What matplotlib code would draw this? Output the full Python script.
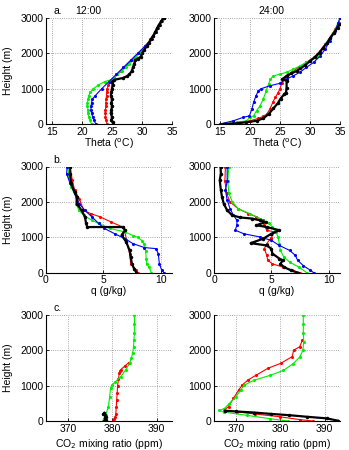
import numpy as np
import matplotlib
matplotlib.use('Agg')
import matplotlib.pyplot as plt

plt.rcParams['font.family'] = ['Liberation Sans', 'DejaVu Sans']
plt.rcParams['font.size'] = 7.5

# ---- potential temperature, 12:00 ----
th12_k_h = [0, 50, 100, 200, 300, 400, 500, 600, 700, 800, 900, 1000, 1100, 1200, 1250, 1300, 1350,
            1400, 1500, 1600, 1700, 1800, 1850, 1900, 2000, 2100, 2200, 2300, 2400, 2500, 2600, 2700,
            2800, 2900, 3000]
th12_k = [25.2, 25.1, 24.9, 25.0, 24.8, 24.9, 25.0, 24.9, 25.0, 24.8, 24.9, 25.0, 25.1, 25.0, 25.4, 26.8,
          27.5, 27.9, 28.3, 28.5, 28.7, 28.9, 29.3, 29.8, 30.0, 30.4, 30.8, 31.2, 31.5, 31.9, 32.2, 32.5,
          32.8, 33.2, 33.6]
th12_r_h = [0, 100, 200, 300, 400, 500, 600, 700, 800, 900, 1000, 1100, 1200, 1300, 1400, 1500, 1600,
            1700, 1800, 1900, 2000, 2100, 2200, 2300, 2400, 2500, 2600, 2700, 2800, 2900, 3000]
th12_r = [24.2, 24.0, 23.9, 23.9, 23.9, 24.0, 24.0, 24.0, 24.1, 24.1, 24.2, 24.4, 24.8, 25.3, 25.9, 26.5,
          27.1, 27.7, 28.3, 28.9, 29.5, 30.0, 30.5, 31.0, 31.4, 31.8, 32.2, 32.6, 32.9, 33.3, 33.6]
th12_g_h = [0, 100, 200, 300, 400, 500, 600, 700, 800, 900, 1000, 1100, 1200, 1250, 1300, 1400, 1500,
            1600, 1700, 1800, 1900, 2000, 2200, 2400, 2600, 2800, 3000]
th12_g = [21.6, 21.3, 21.1, 21.0, 21.0, 20.9, 20.9, 21.0, 21.1, 21.4, 21.9, 22.7, 23.8, 24.8, 25.3, 25.9,
          26.6, 27.3, 27.9, 28.5, 29.0, 29.6, 30.6, 31.5, 32.3, 32.9, 33.4]
th12_b_h = [0, 100, 200, 300, 400, 500, 600, 700, 800, 1000, 1200, 1400, 1600, 1800, 2000, 2200, 2400,
            2600, 2800, 3000]
th12_b = [22.3, 22.0, 21.8, 21.6, 21.5, 21.5, 21.6, 21.7, 22.2, 23.3, 24.5, 25.7, 26.9, 28.1, 29.3, 30.5,
          31.6, 32.4, 33.0, 33.7]

# ---- potential temperature, 24:00 ----
th24_k_h = [0, 10, 50, 90, 160, 280, 440, 580, 720, 840, 890, 1030, 1220, 1270, 1360, 1430, 1500, 1570,
            1660, 1780, 1880, 2020, 2160, 2300, 2440, 2580, 2720, 2820]
th24_k = [15.6, 17.2, 19.4, 21.1, 22.2, 23.1, 23.9, 24.6, 25.1, 25.7, 26.0, 26.1, 26.1, 25.4, 26.1, 26.9,
          27.8, 28.4, 29.2, 30.0, 30.8, 31.6, 32.2, 32.9, 33.4, 34.0, 34.6, 35.0]
th24_r_h = [0, 50, 90, 160, 215, 280, 420, 610, 750, 890, 1000, 1170, 1310, 1410, 1500, 1620, 1740, 1880,
            2070, 2250, 2440, 2680, 2860, 3000]
th24_r = [15.2, 18.3, 20.0, 21.4, 22.2, 22.8, 23.3, 23.8, 24.2, 24.7, 25.0, 25.3, 25.7, 26.4, 27.2, 28.3,
          29.4, 30.6, 31.7, 32.5, 33.3, 34.2, 34.9, 35.2]
th24_g_h = [0, 50, 90, 190, 230, 380, 520, 700, 940, 1130, 1270, 1360, 1410, 1460, 1550, 1640, 1740,
            1920, 2160, 2350, 2580, 2860, 3000]
th24_g = [15.3, 17.8, 19.4, 20.0, 20.6, 21.1, 21.7, 22.2, 22.7, 23.1, 23.4, 23.9, 25.0, 26.1, 27.2, 28.3,
          29.4, 31.1, 32.2, 33.1, 33.9, 34.7, 35.0]
th24_b_h = [0, 90, 190, 230, 420, 610, 800, 940, 1000, 1080, 1150, 1270, 1360, 1460, 1600, 1740, 1920,
            2110, 2350, 2630, 2860, 3000]
th24_b = [15.0, 17.2, 18.9, 19.9, 20.3, 20.6, 21.0, 21.4, 21.9, 23.3, 25.0, 26.1, 27.2, 28.3, 29.4, 30.6,
          31.7, 32.5, 33.3, 34.2, 34.7, 35.0]

# ---- specific humidity, 12:00 ----
q12_k_h = [0, 110, 250, 440, 630, 870, 1060, 1200, 1290, 1290, 1390, 1580, 1760, 1950, 2140, 2280, 2520,
           2800, 2990]
q12_k = [7.9, 7.7, 7.5, 7.4, 7.3, 7.0, 6.6, 6.9, 6.7, 3.6, 3.5, 3.4, 3.1, 2.7, 2.7, 2.5, 2.2, 2.1, 2.1]
q12_r_h = [0, 70, 250, 540, 915, 1200, 1290, 1430, 1580, 1670, 1760, 2090, 2330, 2610, 3000]
q12_r = [8.05, 7.9, 7.4, 7.3, 7.0, 6.9, 6.7, 5.7, 4.7, 3.9, 3.3, 2.9, 2.5, 2.3, 2.1]
q12_g_h = [0, 150, 250, 400, 600, 800, 900, 1000, 1050, 1150, 1250, 1390, 1480, 1620, 1760, 1950, 2140,
           2420, 2710, 3000]
q12_g = [9.2, 9.0, 8.8, 8.75, 8.7, 8.6, 8.4, 8.0, 7.6, 6.9, 5.6, 4.6, 4.0, 3.3, 2.9, 2.6, 2.6, 2.2, 2.0, 1.9]
q12_b_h = [0, 70, 250, 540, 680, 710, 820, 960, 1100, 1250, 1390, 1580, 1760, 1950, 2240, 2520, 2800, 3000]
q12_b = [10.3, 10.1, 9.9, 9.8, 9.6, 8.6, 7.6, 6.9, 6.0, 5.1, 4.6, 4.0, 3.4, 2.9, 2.5, 2.1, 1.8, 1.85]

# ---- specific humidity, 24:00 ----
q24_k_h = [0, 70, 160, 250, 350, 400, 540, 680, 770, 835, 960, 1100, 1200, 1290, 1340, 1430, 1480, 1530,
           1560, 1620, 1760, 1950, 2140, 2330, 2610, 2800, 3000]
q24_k = [7.3, 6.7, 6.1, 5.8, 6.0, 5.7, 5.1, 5.0, 4.6, 3.2, 4.3, 5.0, 5.7, 4.6, 3.7, 4.5, 4.0, 3.3, 2.3, 1.6,
         1.15, 0.85, 0.7, 0.6, 0.5, 0.6, 0.57]
q24_r_h = [0, 70, 160, 250, 350, 490, 680, 820, 990, 1150, 1200, 1340, 1480, 1580, 1670, 1810, 2000,
           2240, 2600, 3000]
q24_r = [7.5, 6.8, 6.0, 5.1, 4.7, 4.6, 4.4, 4.6, 5.0, 5.3, 4.6, 4.4, 4.3, 3.7, 3.0, 2.1, 1.4, 1.1, 0.95, 1.0]
q24_g_h = [0, 160, 300, 440, 630, 820, 1010, 1150, 1290, 1390, 1530, 1670, 1810, 2000, 2240, 2600, 3000]
q24_g = [8.1, 7.4, 6.6, 6.1, 5.8, 5.7, 5.6, 5.4, 5.1, 4.8, 4.0, 3.1, 2.1, 1.6, 1.3, 1.2, 1.3]
q24_b_h = [0, 70, 200, 350, 490, 630, 770, 915, 1010, 1100, 1200, 1340, 1480, 1620, 1810, 2050, 2330,
           2600, 3000]
q24_b = [8.7, 8.4, 7.8, 7.3, 7.1, 6.6, 5.7, 5.0, 4.0, 2.6, 1.85, 2.0, 2.0, 1.7, 1.4, 1.15, 1.0, 1.15, 1.15]

# ---- CO2, 12:00 ----
co12_k_h = [0, 40, 80, 120, 160, 200, 230]
co12_k = [378.2, 378.5, 378.3, 378.6, 378.4, 378.0, 378.2]
co12_r_h = [0, 50, 100, 200, 400, 600, 800, 1000, 1200, 1350, 1400, 1450, 1550, 1650]
co12_r = [380.1, 380.3, 380.6, 380.8, 380.9, 381.0, 381.1, 381.2, 381.4, 381.6, 381.7, 381.9, 382.8, 383.7]
co12_g_h = [0, 170, 400, 690, 920, 1020, 1110, 1250, 1440, 1630, 1770, 1920, 2100, 2300, 2500, 2750, 3000]
co12_g = [377.8, 378.5, 379.1, 379.4, 379.6, 380.0, 380.7, 381.9, 383.0, 383.9, 384.3, 384.6, 384.8, 384.9,
          385.0, 385.0, 385.0]

# ---- CO2, 24:00 ----
co24_k_h = [10, 75, 120, 165, 200, 240, 270, 290]
co24_k = [393.0, 390.5, 386.0, 382.0, 378.0, 374.0, 370.0, 367.5]
co24_r_h = [0, 40, 120, 200, 260, 310, 410, 640, 880, 1020, 1160, 1300, 1490, 1630, 1820, 2000, 2100, 2290]
co24_r = [387.3, 384.4, 379.9, 374.2, 370.1, 367.3, 368.3, 369.4, 370.6, 371.4, 372.7, 374.6, 377.2, 380.1,
          382.7, 383.0, 384.4, 385.0]
co24_g_h = [0, 65, 160, 250, 300, 350, 490, 680, 870, 1010, 1150, 1290, 1430, 1620, 1810, 2000, 2240,
            2500, 2750, 3000]
co24_g = [381.8, 377.7, 372.5, 367.3, 366.2, 367.3, 368.4, 369.9, 371.0, 371.8, 374.0, 377.7, 380.7, 382.9,
          384.4, 385.1, 385.3, 385.2, 385.2, 385.2]

fig = plt.figure(figsize=(3.49, 4.5), dpi=100)

W = 0.361
H = 0.236
lefts = [0.1318, 0.6132]
bottoms = [0.7244, 0.394, 0.0644]

panels = [
    [(th12_k_h, th12_k), (th12_r_h, th12_r), (th12_g_h, th12_g), (th12_b_h, th12_b)],
    [(th24_k_h, th24_k), (th24_r_h, th24_r), (th24_g_h, th24_g), (th24_b_h, th24_b)],
    [(q12_k_h, q12_k), (q12_r_h, q12_r), (q12_g_h, q12_g), (q12_b_h, q12_b)],
    [(q24_k_h, q24_k), (q24_r_h, q24_r), (q24_g_h, q24_g), (q24_b_h, q24_b)],
    [(co12_k_h, co12_k), (co12_r_h, co12_r), (co12_g_h, co12_g)],
    [(co24_k_h, co24_k), (co24_r_h, co24_r), (co24_g_h, co24_g)],
]
colors = ['k', '#ff0000', '#00ee00', '#0000ff']
xlims = [(14, 35), (0, 11), (365, 393.5)]
xticks = [[15, 20, 25, 30, 35], [0, 5, 10], [370, 380, 390]]
xlabels = ['Theta ($^{\\rm o}$C)', 'q (g/kg)', 'CO$_2$ mixing ratio (ppm)']
xlab_y = [-0.115, -0.125, -0.155]
letters = ['a.', 'b.', 'c.']

for i, series in enumerate(panels):
    row, col = divmod(i, 2)
    ax = fig.add_axes([lefts[col], bottoms[row], W, H])
    for j, (h, v) in enumerate(series):
        c = colors[j]
        if c == 'k':
            ax.plot(v, h, '-', color=c, lw=1.6, marker='.', ms=3, zorder=3)
        else:
            ax.plot(v, h, '-', color=c, lw=0.8, marker='.', ms=2.5, zorder=2)
    ax.set_xlim(*xlims[row])
    ax.set_ylim(0, 3000)
    ax.set_xticks(xticks[row])
    ax.set_yticks([0, 1000, 2000, 3000])
    ax.grid(True, ls=':', lw=0.6, color='0.55')
    ax.spines['top'].set_visible(False)
    ax.spines['right'].set_visible(False)
    ax.tick_params(direction='in', length=2, width=0.6, pad=2)
    ax.set_xlabel(xlabels[row])
    ax.xaxis.set_label_coords(0.5, xlab_y[row])
    if col == 0:
        ax.set_ylabel('Height (m)')
        ax.yaxis.set_label_coords(-0.26, 0.5)
        ax.text(0.056, 1.065, letters[row], transform=ax.transAxes, ha='left', va='center')
    if row == 0:
        ax.text([0.333, 0.457][col], 1.065, ['12:00', '24:00'][col], transform=ax.transAxes,
                ha='center', va='center')

plt.savefig('out.png', dpi=100)
